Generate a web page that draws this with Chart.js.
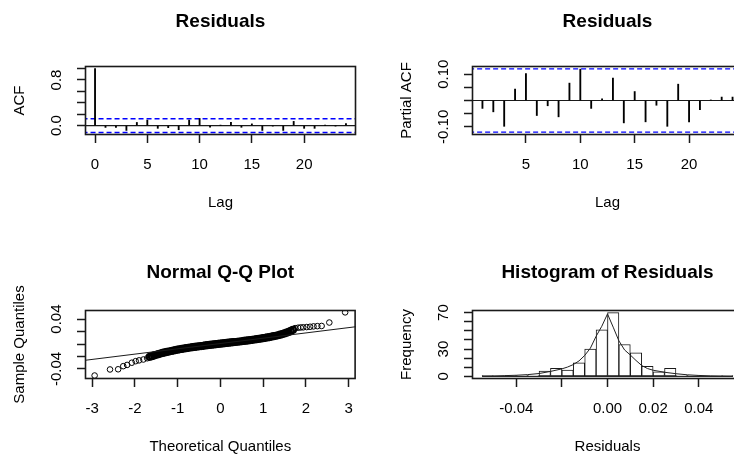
<!DOCTYPE html>
<html>
<head>
<meta charset="utf-8">
<script src="https://cdn.jsdelivr.net/npm/chart.js@4.4.1/dist/chart.umd.min.js"></script>
<style>
  html, body { margin: 0; padding: 0; background: #fff; overflow: hidden; width: 734px; height: 454px; position: relative; }
  canvas { position: absolute; }
</style>
</head>
<body>
<canvas id="acf"></canvas>
<canvas id="pacf"></canvas>
<canvas id="qq"></canvas>
<canvas id="hist"></canvas>
<script>
// ── Values ────────────────────────────────────────────────────────────────
const acfLags   = [0, 1, 2, 3, 4, 5, 6, 7, 8, 9, 10, 11, 12, 13, 14, 15, 16, 17, 18, 19, 20, 21, 22, 23, 24];
const acfValues = [1.000, -0.032, -0.032, -0.085, 0.055, 0.097, -0.048, -0.036, -0.073, 0.097, 0.125, -0.026,
                   0.004, 0.057, -0.030, 0.030, -0.085, -0.004, -0.085, 0.074, -0.048, -0.048, 0.003, -0.003, 0.035];

const pacfLags   = [1, 2, 3, 4, 5, 6, 7, 8, 9, 10, 11, 12, 13, 14, 15, 16, 17, 18, 19, 20, 21, 22, 23, 24];
const pacfValues = [-0.030, -0.043, -0.098, 0.043, 0.102, -0.057, -0.020, -0.062, 0.066, 0.119, -0.030, 0.006,
                    0.085, -0.085, 0.034, -0.081, -0.018, -0.098, 0.062, -0.081, -0.035, 0.002, 0.013, 0.013];

const ciBound = 0.12;

// Q-Q: the separate circles in both tails
const qqTailX = [-2.94, -2.58, -2.39, -2.27, -2.18, -2.07, -1.98, -1.90, -1.80, -1.71,
                 1.75, 1.82, 1.88, 1.94, 2.02, 2.10, 2.18, 2.27, 2.37, 2.55, 2.92];
const qqTailY = [-0.0505, -0.0408, -0.0405, -0.0355, -0.0335, -0.0300, -0.0275, -0.0262, -0.0248, -0.0228,
                 0.0255, 0.0262, 0.0266, 0.0268, 0.0272, 0.0277, 0.0283, 0.0287, 0.0290, 0.0345, 0.0508];
// Q-Q: the solid run of overlapping circles in the middle
const qqBandX = [
  -1.65, -1.60, -1.55, -1.50, -1.45, -1.40, -1.35, -1.30, -1.25, -1.20, -1.15, -1.10, -1.05, -1.00,
  -0.95, -0.90, -0.85, -0.80, -0.75, -0.70, -0.65, -0.60, -0.55, -0.50, -0.45, -0.40, -0.35, -0.30,
  -0.25, -0.20, -0.15, -0.10, -0.05, 0.00, 0.05, 0.10, 0.15, 0.20, 0.25, 0.30, 0.35, 0.40, 0.45,
  0.50, 0.55, 0.60, 0.65, 0.70, 0.75, 0.80, 0.85, 0.90, 0.95, 1.00, 1.05, 1.10, 1.15, 1.20, 1.25,
  1.30, 1.35, 1.40, 1.45, 1.50, 1.55, 1.60, 1.65, 1.70
];
const qqBandY = [
  -0.0205, -0.0195, -0.0183, -0.0172, -0.0162, -0.0152, -0.0143, -0.0135, -0.0127, -0.0120, -0.0112, -0.0105, -0.0097, -0.0090,
  -0.0084, -0.0078, -0.0072, -0.0066, -0.0061, -0.0056, -0.0051, -0.0046, -0.0041, -0.0037, -0.0032, -0.0028, -0.0023, -0.0019,
  -0.0015, -0.0011, -0.0007, -0.0003, 0.0001, 0.0005, 0.0009, 0.0013, 0.0017, 0.0021, 0.0025, 0.0029, 0.0033, 0.0037, 0.0041,
  0.0045, 0.0050, 0.0054, 0.0058, 0.0063, 0.0068, 0.0073, 0.0078, 0.0083, 0.0088, 0.0094, 0.0100, 0.0106, 0.0112, 0.0119, 0.0126,
  0.0133, 0.0141, 0.0150, 0.0160, 0.0170, 0.0182, 0.0195, 0.0210, 0.0228
];
const qqLineX = [-3.2, 3.2];
const qqLineY = [-0.0264, 0.0280];

const histBreaks = [-0.055, -0.050, -0.045, -0.040, -0.035, -0.030, -0.025, -0.020, -0.015, -0.010, -0.005, 0.000,
                    0.005, 0.010, 0.015, 0.020, 0.025, 0.030, 0.035, 0.040, 0.045, 0.050, 0.055];
const histCounts = [1, 0, 1, 1, 1, 6, 9, 7, 15, 30, 51, 70, 35, 26, 11, 5, 9, 1, 1, 0, 0, 1];

const densityX = [-0.055, -0.050, -0.045, -0.040, -0.035, -0.030, -0.025, -0.020, -0.0175, -0.015, -0.0125, -0.010,
                  -0.0075, -0.005, -0.0025, 0.000, 0.0025, 0.005, 0.0075, 0.010, 0.0125, 0.015, 0.0175, 0.020,
                  0.025, 0.030, 0.035, 0.040, 0.045, 0.050, 0.055];
const densityY = [0.5, 0.6, 0.9, 1.3, 2.0, 3.2, 5.5, 8.3, 10.3, 13.0, 17.0, 23.0,
                  31.0, 44.0, 55.0, 68.5, 54.0, 39.0, 29.0, 23.5, 17.5, 12.0, 8.7, 6.8,
                  4.6, 3.0, 1.8, 1.1, 0.7, 0.5, 0.3];

// ── Axis ranges and ticks ─────────────────────────────────────────────────
const acfXRange  = [-0.96, 24.96];
const acfYRange  = [-0.165, 1.045];
const acfXTicks  = [0, 5, 10, 15, 20];
const acfXLabels = ['0', '5', '10', '15', '20'];
const acfYTicks  = [0, 0.2, 0.4, 0.6, 0.8, 1.0];
const acfYLabels = ['0.0', '', '', '', '0.8', ''];

const pacfXRange  = [0.04, 24.96];
const pacfYRange  = [-0.131, 0.131];
const pacfXTicks  = [5, 10, 15, 20];
const pacfXLabels = ['5', '10', '15', '20'];
const pacfYTicks  = [-0.10, -0.05, 0, 0.05, 0.10];
const pacfYLabels = ['-0.10', '', '', '', '0.10'];

const qqXRange  = [-3.165, 3.165];
const qqYRange  = [-0.0561, 0.0546];
const qqXTicks  = [-3, -2, -1, 0, 1, 2, 3];
const qqXLabels = ['-3', '-2', '-1', '0', '1', '2', '3'];
const qqYTicks  = [-0.04, -0.02, 0, 0.02, 0.04];
const qqYLabels = ['-0.04', '', '', '', '0.04'];

const histXRange  = [-0.0594, 0.0594];
const histYRange  = [-2.8, 72.8];
const histXTicks  = [-0.04, -0.02, 0, 0.02, 0.04];
const histXLabels = ['-0.04', '', '0.00', '0.02', '0.04'];
const histYTicks  = [0, 10, 20, 30, 40, 50, 60, 70];
const histYLabels = ['0', '', '', '30', '', '', '', '70'];

// ── Look ──────────────────────────────────────────────────────────────────
const FONT = "'Liberation Sans', Arial, sans-serif";
const INK  = '#1a1a1a';
const BLUE = '#0000ff';
const Y_W  = 80;   // room left of the plot box
const X_H  = 80;   // room under the plot box

// plot boxes on the page (R's par(mfrow = c(2,2)) layout)
const PANELS = {
  acf:  { l: 85,  t: 66,  r: 356, b: 135, rowTop: 0,   titleY: 22 },
  pacf: { l: 472, t: 66,  r: 743, b: 135, rowTop: 0,   titleY: 22 },
  qq:   { l: 85,  t: 310, r: 356, b: 379, rowTop: 227, titleY: 272.5 },
  hist: { l: 472, t: 310, r: 743, b: 379, rowTop: 227, titleY: 272.5 },
};

Chart.defaults.font.family = FONT;

// R draws a full frame round the plot region
const framePlugin = {
  id: 'frame',
  afterDraw(chart) {
    const { ctx, chartArea: a } = chart;
    ctx.save();
    ctx.strokeStyle = INK;
    ctx.lineWidth = 1.6;
    ctx.strokeRect(a.left + 0.5, a.top + 0.5, a.width - 1, a.height - 1);
    ctx.restore();
  },
};

function measure(labels) {
  const m = document.createElement('canvas').getContext('2d');
  m.font = '15px ' + FONT;
  return Math.max(...labels.map(s => m.measureText(s).width));
}

function axis(range, ticks, labels, title, vertical) {
  const opts = {
    type: 'linear',
    min: range[0],
    max: range[1],
    offset: false,
    afterBuildTicks: s => { s.ticks = ticks.map(v => ({ value: v })); },
    grid: { drawOnChartArea: false, drawTicks: true, tickLength: 8, tickWidth: 1.5, color: INK, offset: false },
    border: { display: false },
    ticks: {
      autoSkip: false,
      color: '#000',
      font: { size: 15 },
      callback: (v, i) => labels[i],
    },
    title: { display: true, text: title, color: '#000', font: { size: 15 } },
  };
  if (vertical) {
    opts.afterFit = s => { s.width = Y_W; };
    opts.ticks.minRotation = 90;
    opts.ticks.maxRotation = 90;
    opts.ticks.crossAlign = 'center';
    opts.ticks.padding = 28 - 8 - measure(labels) / 2;
    opts.title.padding = { top: 6, bottom: 0 };
  } else {
    opts.afterFit = s => { s.height = X_H; };
    opts.ticks.maxRotation = 0;
    opts.ticks.padding = 13;
    opts.title.padding = { top: 0, bottom: 3 };
  }
  return opts;
}

function makePanel(id, title, datasets, xAxis, yAxis) {
  const p = PANELS[id];
  const c = document.getElementById(id);
  const w = Y_W + (p.r - p.l) + 10;
  const h = (p.t - p.rowTop) + (p.b - p.t) + X_H;
  c.width = w; c.height = h;
  c.style.width = w + 'px'; c.style.height = h + 'px';
  c.style.left = (p.l - Y_W) + 'px';
  c.style.top = p.rowTop + 'px';

  const lh = 19 * 1.2;
  const padTop = p.titleY - p.rowTop - lh / 2;
  const padBottom = (p.t - p.rowTop) - padTop - lh;

  return new Chart(c.getContext('2d'), {
    type: 'scatter',
    data: { datasets },
    options: {
      responsive: false,
      animation: false,
      devicePixelRatio: 1,
      events: [],
      layout: { padding: { left: 0, top: 0, right: 10, bottom: 0 } },
      plugins: {
        legend: { display: false },
        tooltip: { enabled: false },
        title: {
          display: true,
          text: title,
          fullSize: false,
          color: '#000',
          font: { size: 19, weight: 'bold' },
          padding: { top: padTop, bottom: padBottom },
        },
      },
      scales: { x: xAxis, y: yAxis },
    },
    plugins: [framePlugin],
  });
}

function hline(range, y, color, width, dash) {
  return {
    type: 'line',
    data: [{ x: range[0] - 1, y }, { x: range[1] + 1, y }],
    borderColor: color,
    borderWidth: width,
    borderDash: dash || [],
    pointRadius: 0,
    clip: 0,
  };
}

function spikes(lags, values) {
  return {
    type: 'bar',
    data: lags.map((l, i) => ({ x: l, y: values[i] })),
    backgroundColor: '#000',
    borderWidth: 0,
    barThickness: 1.2,
  };
}

// ── ACF ───────────────────────────────────────────────────────────────────
makePanel('acf', 'Residuals', [
  spikes(acfLags, acfValues),
  hline(acfXRange, 0, INK, 1.2),
  hline(acfXRange, ciBound, BLUE, 1.4, [5, 3]),
  hline(acfXRange, -ciBound, BLUE, 1.4, [5, 3]),
], axis(acfXRange, acfXTicks, acfXLabels, 'Lag', false),
   axis(acfYRange, acfYTicks, acfYLabels, 'ACF', true));

// ── PACF ──────────────────────────────────────────────────────────────────
makePanel('pacf', 'Residuals', [
  spikes(pacfLags, pacfValues),
  hline(pacfXRange, 0, INK, 1.2),
  hline(pacfXRange, ciBound, BLUE, 1.4, [5, 3]),
  hline(pacfXRange, -ciBound, BLUE, 1.4, [5, 3]),
], axis(pacfXRange, pacfXTicks, pacfXLabels, 'Lag', false),
   axis(pacfYRange, pacfYTicks, pacfYLabels, 'Partial ACF', true));

// ── Normal Q-Q ────────────────────────────────────────────────────────────
const circle = {
  type: 'scatter',
  pointStyle: 'circle',
  borderColor: '#000',
  backgroundColor: 'rgba(0,0,0,0)',
  showLine: false,
};
makePanel('qq', 'Normal Q-Q Plot', [
  {
    type: 'line',
    data: qqLineX.map((x, i) => ({ x, y: qqLineY[i] })),
    borderColor: INK,
    borderWidth: 1,
    pointRadius: 0,
    clip: 0,
  },
  { ...circle, data: qqTailX.map((x, i) => ({ x, y: qqTailY[i] })), pointRadius: 2.8, borderWidth: 1 },
  { ...circle, data: qqBandX.map((x, i) => ({ x, y: qqBandY[i] })), pointRadius: 3, borderWidth: 2.2 },
], axis(qqXRange, qqXTicks, qqXLabels, 'Theoretical Quantiles', false),
   axis(qqYRange, qqYTicks, qqYLabels, 'Sample Quantiles', true));

// ── Histogram ─────────────────────────────────────────────────────────────
makePanel('hist', 'Histogram of Residuals', [
  {
    type: 'line',
    data: densityX.map((x, i) => ({ x, y: densityY[i] })),
    borderColor: '#222',
    borderWidth: 1,
    pointRadius: 0,
    tension: 0,
    clip: 0,
    order: 1,
  },
  {
    type: 'line',
    data: [{ x: histBreaks[0], y: 0 }, { x: histBreaks[histBreaks.length - 1], y: 0 }],
    borderColor: INK,
    borderWidth: 1,
    pointRadius: 0,
    order: 2,
  },
  {
    type: 'bar',
    data: histCounts.map((n, i) => ({ x: (histBreaks[i] + histBreaks[i + 1]) / 2, y: n })),
    backgroundColor: '#fff',
    borderColor: INK,
    borderWidth: 1,
    borderSkipped: false,
    barPercentage: 1,
    categoryPercentage: 1,
    order: 3,
  },
], axis(histXRange, histXTicks, histXLabels, 'Residuals', false),
   axis(histYRange, histYTicks, histYLabels, 'Frequency', true));
</script>
</body>
</html>
